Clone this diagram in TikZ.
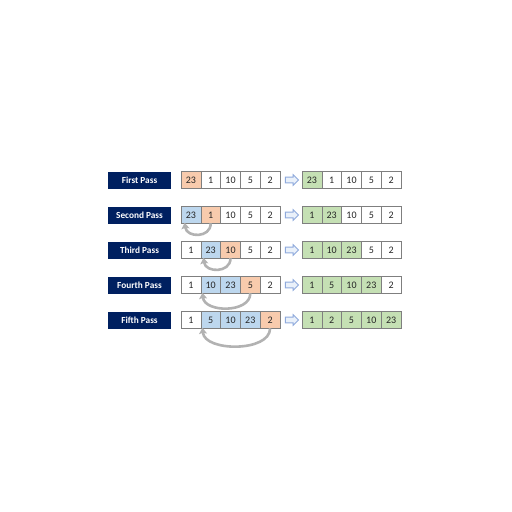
\documentclass[tikz,border=0pt]{standalone}
\usepackage{fontspec}
\setmainfont{Carlito}
\usetikzlibrary{shapes.arrows,arrows.meta,calc}
\definecolor{navy}{HTML}{002060}
\definecolor{peach}{HTML}{F8CBAD}
\definecolor{lblue}{HTML}{BDD7EE}
\definecolor{lgreen}{HTML}{C5E0B4}
\definecolor{cellline}{HTML}{7F7F7F}
\definecolor{arrline}{HTML}{8FAADC}
\definecolor{arrfill}{HTML}{EAF1FA}
\tikzset{
  passlabel/.style={rectangle, fill=navy, text=white, font=\bfseries\fontsize{9.3}{11}\selectfont,
    minimum width=63pt, minimum height=17pt, inner sep=0pt},
  cell/.style={rectangle, draw=cellline, line width=0.6pt, fill=white, minimum width=19.8pt,
    minimum height=17pt, inner sep=0pt, font=\fontsize{10}{12}\selectfont, text=black!85},
  sel/.style={cell, fill=peach},
  sorted/.style={cell, fill=lblue},
  done/.style={cell, fill=lgreen},
  blockarrow/.style={single arrow, draw=arrline, fill=arrfill, line width=0.9pt,
    minimum height=13pt, inner sep=2.4pt, single arrow head extend=2.4pt,
    single arrow tip angle=90},
  swaparrow/.style={draw=gray!60, line width=2.6pt, -{Stealth[length=6pt,width=8pt,inset=1pt]}},
}
\begin{document}
\begin{tikzpicture}[x=1pt,y=-1pt]
\useasboundingbox (0,0) rectangle (512,512);
% row y positions
\def\ya{180}\def\yb{215}\def\yc{250}\def\yd{285}\def\ye{320}
% labels
\node[passlabel] (l1) at (139.5,\ya) {First Pass};
\node[passlabel] (l2) at (139.5,\yb) {Second Pass};
\node[passlabel] (l3) at (139.5,\yc) {Third Pass};
\node[passlabel] (l4) at (139.5,\yd) {Fourth Pass};
\node[passlabel] (l5) at (139.5,\ye) {Fifth Pass};
% row 1
\node[sel]  (r1c1) at (190.9,\ya) {23};
\node[cell] (r1c2) at (210.7,\ya) {1};
\node[cell] (r1c3) at (230.5,\ya) {10};
\node[cell] (r1c4) at (250.3,\ya) {5};
\node[cell] (r1c5) at (270.1,\ya) {2};
\node[done] (g1c1) at (311.9,\ya) {23};
\node[cell] (g1c2) at (331.7,\ya) {1};
\node[cell] (g1c3) at (351.5,\ya) {10};
\node[cell] (g1c4) at (371.3,\ya) {5};
\node[cell] (g1c5) at (391.1,\ya) {2};
% row 2
\node[sorted] (r2c1) at (190.9,\yb) {23};
\node[sel]  (r2c2) at (210.7,\yb) {1};
\node[cell] (r2c3) at (230.5,\yb) {10};
\node[cell] (r2c4) at (250.3,\yb) {5};
\node[cell] (r2c5) at (270.1,\yb) {2};
\node[done] (g2c1) at (311.9,\yb) {1};
\node[done] (g2c2) at (331.7,\yb) {23};
\node[cell] (g2c3) at (351.5,\yb) {10};
\node[cell] (g2c4) at (371.3,\yb) {5};
\node[cell] (g2c5) at (391.1,\yb) {2};
% row 3
\node[cell] (r3c1) at (190.9,\yc) {1};
\node[sorted] (r3c2) at (210.7,\yc) {23};
\node[sel]  (r3c3) at (230.5,\yc) {10};
\node[cell] (r3c4) at (250.3,\yc) {5};
\node[cell] (r3c5) at (270.1,\yc) {2};
\node[done] (g3c1) at (311.9,\yc) {1};
\node[done] (g3c2) at (331.7,\yc) {10};
\node[done] (g3c3) at (351.5,\yc) {23};
\node[cell] (g3c4) at (371.3,\yc) {5};
\node[cell] (g3c5) at (391.1,\yc) {2};
% row 4
\node[cell] (r4c1) at (190.9,\yd) {1};
\node[sorted] (r4c2) at (210.7,\yd) {10};
\node[sorted] (r4c3) at (230.5,\yd) {23};
\node[sel]  (r4c4) at (250.3,\yd) {5};
\node[cell] (r4c5) at (270.1,\yd) {2};
\node[done] (g4c1) at (311.9,\yd) {1};
\node[done] (g4c2) at (331.7,\yd) {5};
\node[done] (g4c3) at (351.5,\yd) {10};
\node[done] (g4c4) at (371.3,\yd) {23};
\node[cell] (g4c5) at (391.1,\yd) {2};
% row 5
\node[cell] (r5c1) at (190.9,\ye) {1};
\node[sorted] (r5c2) at (210.7,\ye) {5};
\node[sorted] (r5c3) at (230.5,\ye) {10};
\node[sorted] (r5c4) at (250.3,\ye) {23};
\node[sel]  (r5c5) at (270.1,\ye) {2};
\node[done] (g5c1) at (311.9,\ye) {1};
\node[done] (g5c2) at (331.7,\ye) {2};
\node[done] (g5c3) at (351.5,\ye) {5};
\node[done] (g5c4) at (371.3,\ye) {10};
\node[done] (g5c5) at (391.1,\ye) {23};
% block arrows
\foreach \i/\y in {1/\ya,2/\yb,3/\yc,4/\yd,5/\ye}{
  \node[blockarrow] (ba\i) at (290.5,\y) {};
}
% swap arrows
\draw[swaparrow] ([yshift=0.5pt]r2c2.south) .. controls +(0,15) and +(2,15) .. ([xshift=4pt,yshift=1pt]r2c1.south west);
\draw[swaparrow] ([yshift=0.5pt]r3c3.south) .. controls +(0,15) and +(2,15) .. ([xshift=3pt,yshift=1pt]r3c2.south west);
\draw[swaparrow] ([yshift=0.5pt]r4c4.south) .. controls +(0,20) and +(2,20) .. ([xshift=2pt,yshift=1pt]r4c2.south west);
\draw[swaparrow] ([yshift=0.5pt]r5c5.south) .. controls +(0,24) and +(2,24) .. ([xshift=2pt,yshift=1pt]r5c2.south west);
\end{tikzpicture}
\end{document}
